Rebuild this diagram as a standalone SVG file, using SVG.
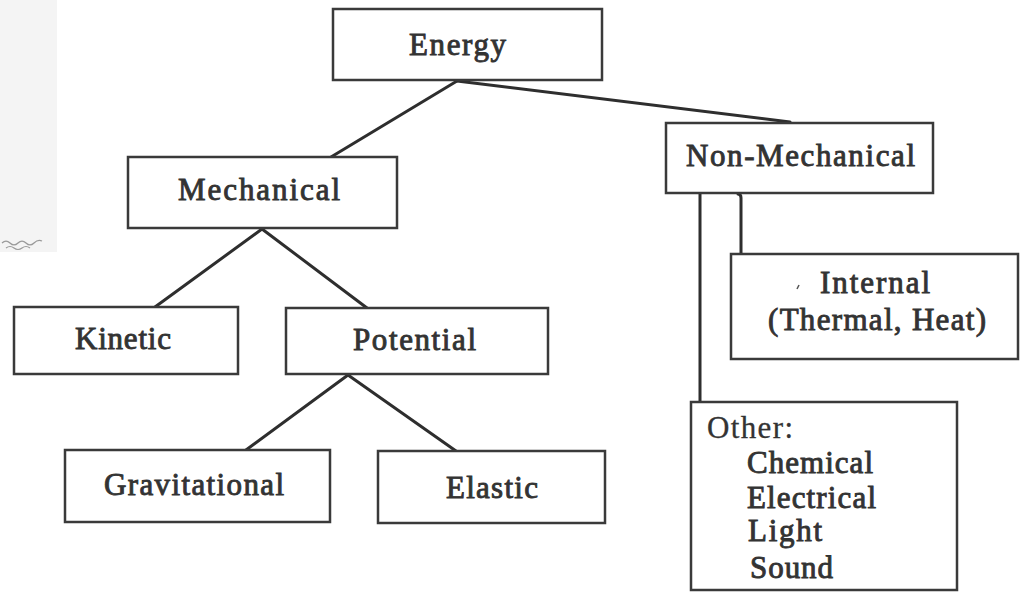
<svg xmlns="http://www.w3.org/2000/svg" width="1024" height="593" viewBox="0 0 1024 593">
  <style>
    .box { fill: #ffffff; stroke: #3a3a3a; stroke-width: 2.5; }
    .conn { stroke: #2e2e2e; stroke-width: 3; fill: none; stroke-linecap: round; }
    .t { font-family: "Liberation Serif", "Times New Roman", serif; font-size: 31px; font-weight: normal; fill: #333333; stroke: #333333; stroke-width: 0.9; }
    .tn { font-family: "Liberation Serif", "Times New Roman", serif; font-size: 31px; font-weight: normal; fill: #333333; stroke: #333333; stroke-width: 0.3; }
  </style>
  <rect x="0" y="0" width="1024" height="593" fill="#ffffff"/>
  <rect x="0" y="0" width="57" height="252" fill="#f4f4f4"/>
  <path d="M2,243 q4,-4 8,0 t8,0 t8,0 t8,0 t8,-2 M6,248 q4,-3 8,0 t8,0 t8,0" stroke="#9a9a9a" stroke-width="1.2" fill="none"/>

  <g id="connectors">
    <line class="conn" x1="457" y1="81" x2="331" y2="157"/>
    <line class="conn" x1="457" y1="81" x2="790" y2="122"/>
    <line class="conn" x1="262" y1="229" x2="155" y2="307"/>
    <line class="conn" x1="262" y1="229" x2="367" y2="308"/>
    <line class="conn" x1="348" y1="375" x2="246" y2="450"/>
    <line class="conn" x1="348" y1="375" x2="456" y2="451"/>
    <line class="conn" x1="700" y1="193" x2="700" y2="402"/>
    <path class="conn" d="M738,194 q3,0 3,4 L741,254"/>
  </g>

  <g id="energy">
    <rect class="box" x="333" y="9" width="269" height="71"/>
    <text class="t" x="409" y="55" textLength="97">Energy</text>
  </g>
  <g id="mechanical">
    <rect class="box" x="128" y="157" width="269" height="71"/>
    <text class="t" x="178" y="200" textLength="162">Mechanical</text>
  </g>
  <g id="non-mechanical">
    <rect class="box" x="666" y="123" width="267" height="70"/>
    <text class="t" x="686" y="166" textLength="229">Non-Mechanical</text>
  </g>
  <g id="kinetic">
    <rect class="box" x="14" y="307" width="224" height="67"/>
    <text class="t" x="75" y="349" textLength="96">Kinetic</text>
  </g>
  <g id="potential">
    <rect class="box" x="286" y="308" width="262" height="66"/>
    <text class="t" x="353" y="350" textLength="123">Potential</text>
  </g>
  <g id="gravitational">
    <rect class="box" x="65" y="450" width="265" height="72"/>
    <text class="t" x="104" y="495" textLength="180">Gravitational</text>
  </g>
  <g id="elastic">
    <rect class="box" x="378" y="451" width="227" height="72"/>
    <text class="t" x="446" y="498" textLength="92">Elastic</text>
  </g>
  <g id="internal">
    <rect class="box" x="731" y="254" width="287" height="105"/>
    <path d="M797,289 l2,-4" stroke="#555" stroke-width="1.5"/>
    <text class="t" x="820" y="293" textLength="110">Internal</text>
    <text class="t" x="768" y="330" textLength="218">(Thermal, Heat)</text>
  </g>
  <g id="other">
    <rect class="box" x="691" y="402" width="266" height="188"/>
    <text class="tn" x="707" y="438" textLength="86">Other:</text>
    <text class="t" x="747" y="473" textLength="126">Chemical</text>
    <text class="t" x="747" y="508" textLength="129">Electrical</text>
    <text class="t" x="748" y="541" textLength="74">Light</text>
    <text class="t" x="750" y="578" textLength="83">Sound</text>
  </g>
</svg>
